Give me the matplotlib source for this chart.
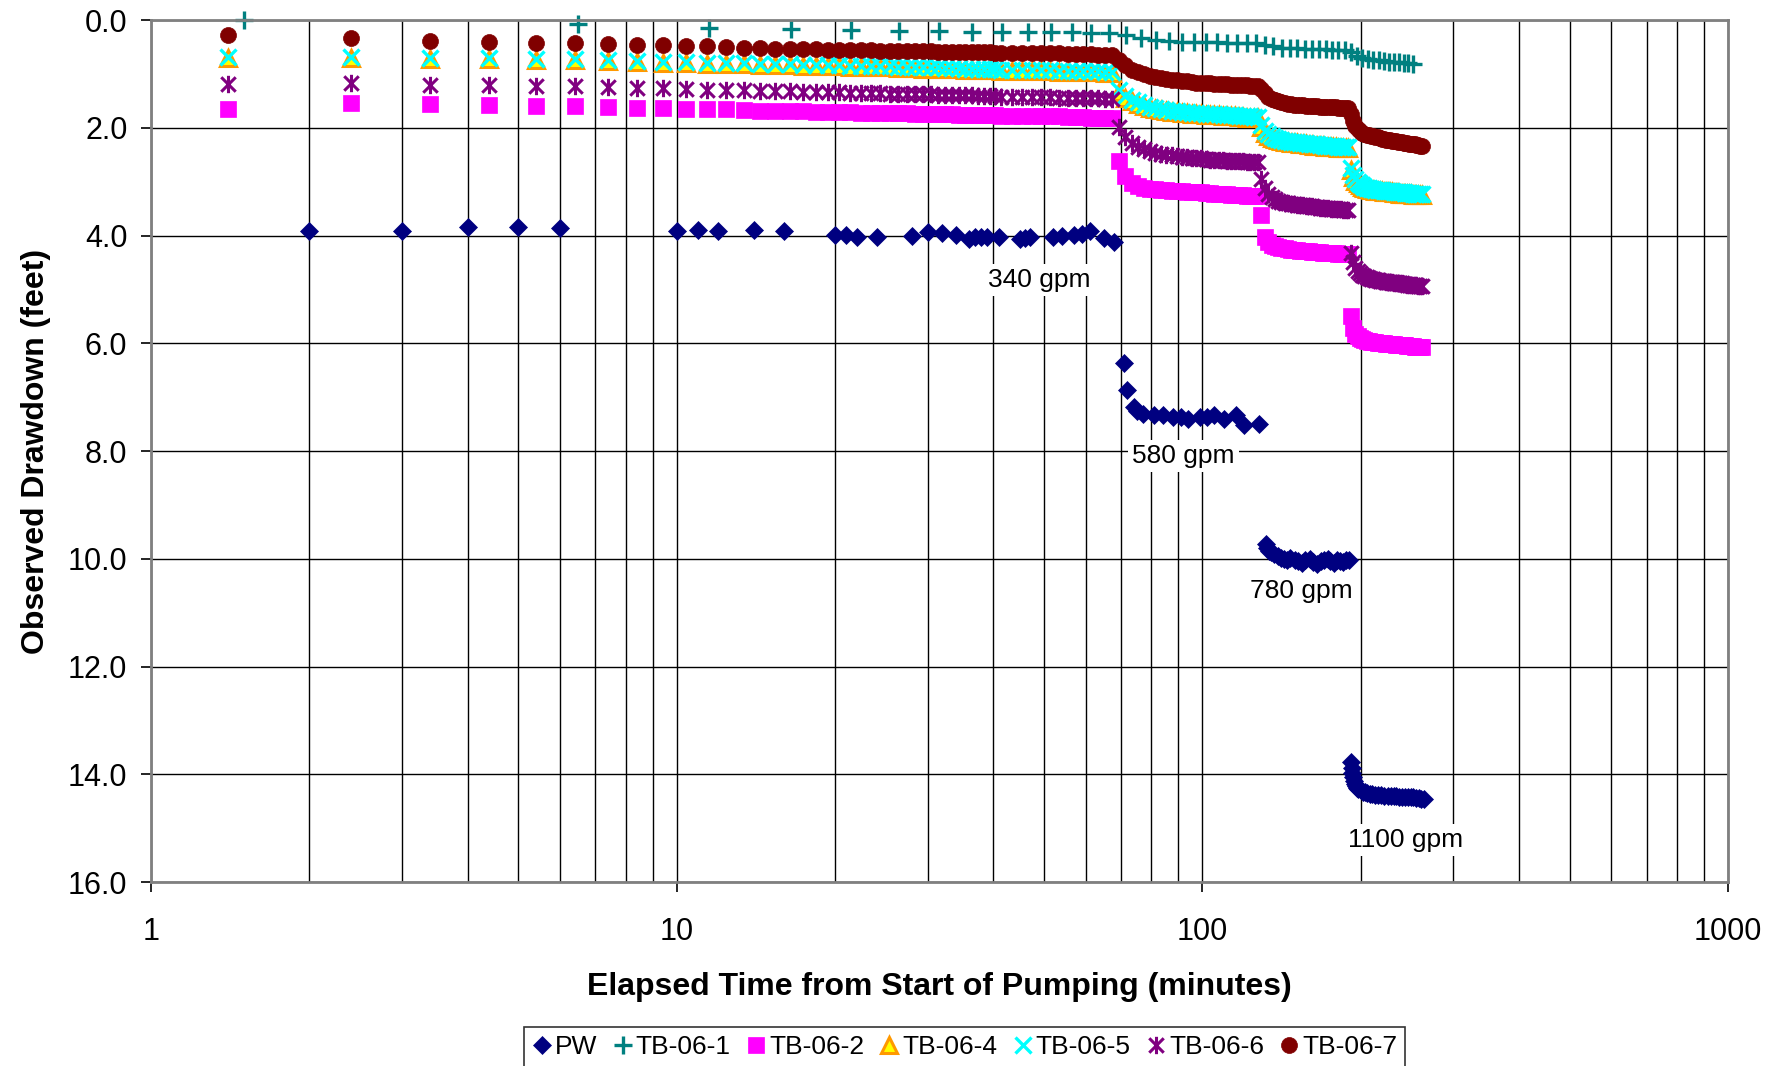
import numpy as np
import matplotlib
matplotlib.use('Agg')
import matplotlib.pyplot as plt
from matplotlib.path import Path
from matplotlib.ticker import FormatStrFormatter, NullFormatter

plt.rcParams['font.family'] = ['Liberation Sans', 'DejaVu Sans']

# Pumping well (manual readings, minutes / feet)
pw_time = [2, 3, 4, 5, 6, 10, 11, 12, 14, 16, 20, 21, 22, 24, 28, 30, 32, 34, 36, 37,
           38, 39, 41, 45, 46, 47, 52, 54, 57, 59, 61, 65, 68,
           71, 72, 74, 75, 77, 81, 84, 88, 91, 94, 99, 102, 105, 110, 116, 120, 128,
           132, 133, 134, 135, 137, 139, 141, 143, 145, 147, 150, 152, 155, 157, 160, 162,
           165, 168, 170, 173, 175, 178, 180, 183, 185, 188, 190,
           192, 192.5, 193, 193.5, 194, 195, 196, 197, 198, 200, 202, 204, 206, 208, 210,
           213, 216, 219, 222, 225, 228, 231, 234, 237, 240, 243, 246, 249, 252, 255, 258,
           261, 264]
pw_dd = [3.91, 3.91, 3.84, 3.84, 3.86, 3.92, 3.89, 3.92, 3.90, 3.92, 3.99, 3.99, 4.02, 4.02,
         4.00, 3.94, 3.95, 3.99, 4.06, 4.03, 4.02, 4.02, 4.03, 4.07, 4.05, 4.03, 4.03, 4.00,
         3.99, 3.98, 3.91, 4.05, 4.12,
         6.37, 6.86, 7.18, 7.25, 7.31, 7.34, 7.34, 7.37, 7.37, 7.40, 7.36, 7.37, 7.34, 7.40,
         7.34, 7.52, 7.49,
         9.72, 9.80, 9.86, 9.88, 9.92, 9.95, 9.98, 10.00, 10.03, 9.98, 10.02, 10.05, 10.08,
         10.03, 10.01, 10.06, 10.10, 10.04, 10.02, 10.00, 10.05, 10.08, 10.02, 10.04, 10.06,
         10.03, 10.02,
         13.77, 13.88, 13.98, 14.06, 14.12, 14.18, 14.22, 14.25, 14.27, 14.30, 14.32, 14.33,
         14.35, 14.36, 14.37, 14.38, 14.38, 14.39, 14.40, 14.40, 14.40, 14.41, 14.41, 14.42,
         14.42, 14.42, 14.43, 14.43, 14.43, 14.44, 14.44, 14.45, 14.46]

# TB-06-1 read every 5 minutes
tb1_time = np.arange(1.5, 252, 5)
tb1 = [0.00, 0.08, 0.14, 0.16, 0.19, 0.20, 0.21, 0.22, 0.22, 0.22,
       0.23, 0.23, 0.24, 0.24, 0.28, 0.33, 0.37, 0.39, 0.40, 0.41,
       0.41, 0.41, 0.42, 0.42, 0.42, 0.43, 0.46, 0.49, 0.51, 0.52,
       0.52, 0.53, 0.53, 0.54, 0.54, 0.55, 0.55, 0.56, 0.59, 0.66,
       0.70, 0.73, 0.74, 0.75, 0.76, 0.77, 0.78, 0.78, 0.79, 0.80,
       0.81]

# transducer wells: 1 min readings to 40 min, then every 2 min
obs_time = np.concatenate([np.arange(1.4, 41, 1), np.arange(41.4, 262, 2)])

tb2 = [1.65, 1.54, 1.56, 1.57, 1.59, 1.60, 1.61, 1.63, 1.64, 1.65, 1.66, 1.66, 1.67, 1.68,
       1.68, 1.69, 1.69, 1.70, 1.70, 1.71, 1.71, 1.72, 1.72, 1.72, 1.73, 1.73, 1.73, 1.74,
       1.74, 1.74, 1.75, 1.75, 1.75, 1.76, 1.76, 1.76, 1.77, 1.77, 1.77, 1.77,
       1.78, 1.78, 1.78, 1.79, 1.79, 1.79, 1.79, 1.80, 1.80, 1.80, 1.81, 1.81, 1.81, 1.82,
       2.62, 2.90, 3.03, 3.08, 3.11, 3.13, 3.14, 3.15, 3.16, 3.17, 3.18, 3.18, 3.19, 3.19,
       3.20, 3.20, 3.21, 3.21, 3.22, 3.22, 3.23, 3.23, 3.24, 3.24, 3.25, 3.25, 3.26, 3.26,
       3.27, 3.27,
       3.62, 4.02, 4.12, 4.17, 4.20, 4.22, 4.23, 4.24, 4.25, 4.26, 4.27, 4.27, 4.28, 4.28,
       4.29, 4.29, 4.30, 4.30, 4.31, 4.31, 4.32, 4.32, 4.32, 4.33, 4.33, 4.33, 4.34, 4.34,
       4.34, 4.35, 4.35,
       5.50, 5.72, 5.82, 5.87, 5.90, 5.92, 5.94, 5.95, 5.96, 5.97, 5.98, 5.98, 5.99, 5.99,
       6.00, 6.00, 6.01, 6.01, 6.02, 6.02, 6.02, 6.03, 6.03, 6.03, 6.04, 6.04, 6.04, 6.05,
       6.05, 6.05, 6.05, 6.06, 6.06, 6.06, 6.07, 6.07]

tb4 = [0.70, 0.70, 0.72, 0.73, 0.74, 0.75, 0.76, 0.78, 0.79, 0.80, 0.81, 0.82, 0.82, 0.83,
       0.84, 0.84, 0.85, 0.85, 0.86, 0.86, 0.87, 0.87, 0.88, 0.88, 0.88, 0.89, 0.89, 0.89,
       0.90, 0.90, 0.90, 0.91, 0.91, 0.91, 0.92, 0.92, 0.92, 0.93, 0.93, 0.93,
       0.94, 0.94, 0.94, 0.95, 0.95, 0.95, 0.96, 0.96, 0.96, 0.97, 0.97, 0.97, 0.98, 0.98,
       1.33, 1.44, 1.51, 1.56, 1.60, 1.63, 1.65, 1.67, 1.69, 1.70, 1.71, 1.72, 1.73, 1.74,
       1.75, 1.75, 1.76, 1.76, 1.77, 1.77, 1.78, 1.78, 1.79, 1.79, 1.80, 1.80, 1.81, 1.81,
       1.82, 1.82,
       1.98, 2.09, 2.15, 2.19, 2.21, 2.23, 2.25, 2.26, 2.27, 2.28, 2.29, 2.29, 2.30, 2.31,
       2.31, 2.32, 2.32, 2.33, 2.33, 2.34, 2.34, 2.35, 2.35, 2.35, 2.36, 2.36, 2.37, 2.37,
       2.37, 2.38, 2.38,
       2.78, 2.91, 2.98, 3.03, 3.07, 3.09, 3.11, 3.13, 3.14, 3.15, 3.16, 3.17, 3.17, 3.18,
       3.18, 3.19, 3.19, 3.20, 3.20, 3.20, 3.21, 3.21, 3.21, 3.22, 3.22, 3.22, 3.23, 3.23,
       3.23, 3.23, 3.24, 3.24, 3.24, 3.24, 3.25, 3.25]

tb5 = [0.68, 0.68, 0.70, 0.71, 0.72, 0.73, 0.74, 0.76, 0.77, 0.78, 0.79, 0.80, 0.80, 0.81,
       0.82, 0.82, 0.83, 0.83, 0.84, 0.84, 0.85, 0.85, 0.86, 0.86, 0.86, 0.87, 0.87, 0.87,
       0.88, 0.88, 0.88, 0.89, 0.89, 0.89, 0.90, 0.90, 0.90, 0.91, 0.91, 0.91,
       0.92, 0.92, 0.92, 0.93, 0.93, 0.93, 0.94, 0.94, 0.94, 0.95, 0.95, 0.95, 0.96, 0.96,
       1.30, 1.41, 1.48, 1.53, 1.57, 1.61, 1.63, 1.65, 1.67, 1.68, 1.69, 1.70, 1.71, 1.72,
       1.73, 1.73, 1.74, 1.74, 1.75, 1.75, 1.76, 1.76, 1.77, 1.77, 1.78, 1.78, 1.79, 1.79,
       1.80, 1.80,
       1.95, 2.06, 2.12, 2.16, 2.19, 2.21, 2.23, 2.24, 2.25, 2.26, 2.27, 2.27, 2.28, 2.29,
       2.29, 2.30, 2.30, 2.31, 2.31, 2.32, 2.32, 2.33, 2.33, 2.33, 2.34, 2.34, 2.35, 2.35,
       2.35, 2.36, 2.36,
       2.75, 2.88, 2.95, 3.00, 3.04, 3.07, 3.09, 3.11, 3.12, 3.13, 3.14, 3.15, 3.15, 3.16,
       3.16, 3.17, 3.17, 3.18, 3.18, 3.18, 3.19, 3.19, 3.19, 3.20, 3.20, 3.20, 3.21, 3.21,
       3.21, 3.21, 3.22, 3.22, 3.22, 3.22, 3.23, 3.23]

tb6 = [1.18, 1.16, 1.20, 1.21, 1.22, 1.23, 1.25, 1.26, 1.27, 1.28, 1.29, 1.30, 1.30, 1.31,
       1.32, 1.32, 1.33, 1.33, 1.34, 1.34, 1.35, 1.35, 1.36, 1.36, 1.37, 1.37, 1.37, 1.38,
       1.38, 1.38, 1.39, 1.39, 1.39, 1.40, 1.40, 1.40, 1.41, 1.41, 1.41, 1.41,
       1.42, 1.42, 1.42, 1.43, 1.43, 1.43, 1.44, 1.44, 1.44, 1.45, 1.45, 1.45, 1.46, 1.46,
       1.98, 2.18, 2.29, 2.35, 2.40, 2.44, 2.46, 2.48, 2.50, 2.51, 2.53, 2.54, 2.55, 2.56,
       2.57, 2.57, 2.58, 2.59, 2.59, 2.60, 2.60, 2.61, 2.61, 2.62, 2.62, 2.62, 2.63, 2.63,
       2.64, 2.64,
       2.95, 3.12, 3.22, 3.28, 3.32, 3.35, 3.37, 3.39, 3.40, 3.41, 3.42, 3.43, 3.44, 3.44,
       3.45, 3.46, 3.46, 3.47, 3.47, 3.48, 3.48, 3.49, 3.49, 3.50, 3.50, 3.50, 3.51, 3.51,
       3.52, 3.52, 3.53,
       4.32, 4.50, 4.60, 4.66, 4.70, 4.73, 4.75, 4.77, 4.79, 4.80, 4.81, 4.82, 4.83, 4.84,
       4.85, 4.85, 4.86, 4.86, 4.87, 4.87, 4.88, 4.88, 4.89, 4.89, 4.89, 4.90, 4.90, 4.91,
       4.91, 4.91, 4.92, 4.92, 4.92, 4.93, 4.93, 4.93]

tb7 = [0.27, 0.34, 0.38, 0.40, 0.42, 0.43, 0.44, 0.46, 0.47, 0.48, 0.49, 0.50, 0.51, 0.52,
       0.53, 0.53, 0.54, 0.54, 0.55, 0.55, 0.56, 0.56, 0.56, 0.57, 0.57, 0.57, 0.58, 0.58,
       0.58, 0.58, 0.59, 0.59, 0.59, 0.59, 0.60, 0.60, 0.60, 0.60, 0.60, 0.61,
       0.61, 0.61, 0.61, 0.62, 0.62, 0.62, 0.62, 0.63, 0.63, 0.63, 0.63, 0.64, 0.64, 0.65,
       0.74, 0.84, 0.92, 0.97, 1.01, 1.04, 1.06, 1.08, 1.10, 1.11, 1.12, 1.13, 1.14, 1.15,
       1.16, 1.16, 1.17, 1.17, 1.18, 1.18, 1.19, 1.19, 1.20, 1.20, 1.20, 1.21, 1.21, 1.22,
       1.22, 1.23,
       1.28, 1.36, 1.42, 1.46, 1.49, 1.51, 1.53, 1.54, 1.55, 1.56, 1.57, 1.57, 1.58, 1.58,
       1.59, 1.59, 1.60, 1.60, 1.60, 1.61, 1.61, 1.61, 1.62, 1.62, 1.62, 1.62, 1.63, 1.63,
       1.63, 1.64, 1.64,
       1.75, 1.88, 1.96, 2.02, 2.06, 2.09, 2.11, 2.13, 2.14, 2.15, 2.16, 2.17, 2.18, 2.19,
       2.20, 2.21, 2.22, 2.22, 2.23, 2.24, 2.24, 2.25, 2.26, 2.26, 2.27, 2.28, 2.28, 2.29,
       2.30, 2.30, 2.31, 2.31, 2.32, 2.32, 2.33, 2.34]

# pumping rate labels
rate_labels = ['340 gpm', '580 gpm', '780 gpm', '1100 gpm']
rate_x = [49, 92, 154, 244]
rate_y = [4.83, 8.09, 10.6, 15.22]

# Excel style "star" marker (x with a vertical bar)
star = Path([(-1, -1), (1, 1), (-1, 1), (1, -1), (0, -1.2), (0, 1.2)],
            [Path.MOVETO, Path.LINETO, Path.MOVETO, Path.LINETO, Path.MOVETO, Path.LINETO])

fig = plt.figure(figsize=(17.85, 10.66), dpi=100)
ax = fig.add_axes([0.0846, 0.1726, 0.8835, 0.8086])

ax.plot(pw_time, pw_dd, ls='none', marker='D', ms=8.8, color='#000080', mew=0.5,
        label='PW', clip_on=False)
ax.plot(tb1_time, tb1, ls='none', marker='+', ms=12.5, color='#008080', mew=2.4,
        label='TB-06-1', clip_on=False)
ax.plot(obs_time, tb2, ls='none', marker='s', ms=11.5, color='#FF00FF', mew=0.5,
        label='TB-06-2', clip_on=False)
ax.plot(obs_time, tb4, ls='none', marker='^', ms=11.5, mfc='#FFFF00', mec='#FF9900', mew=2.2,
        label='TB-06-4', clip_on=False)
ax.plot(obs_time, tb5, ls='none', marker='x', ms=11.5, color='#00FFFF', mew=2.4,
        label='TB-06-5', clip_on=False)
ax.plot(obs_time, tb6, ls='none', marker=star, ms=12.5, color='#800080', mfc='none', mew=2.2,
        label='TB-06-6', clip_on=False)
ax.plot(obs_time, tb7, ls='none', marker='o', ms=11.5, color='#800000', mew=0.5,
        label='TB-06-7', clip_on=False)

for lab, x, y in zip(rate_labels, rate_x, rate_y):
    ax.text(x, y, lab, fontsize=19, ha='center', va='center',
            bbox=dict(facecolor='white', edgecolor='none', pad=3))

# axes
ax.set_xscale('log')
ax.set_xlim(1, 1000)
ax.set_ylim(16, 0)
ax.set_yticks(np.arange(0, 16.1, 2))
ax.yaxis.set_major_formatter(FormatStrFormatter('%.1f'))
ax.set_xticks([1, 10, 100, 1000])
ax.set_xticklabels(['1', '10', '100', '1000'])
ax.xaxis.set_minor_formatter(NullFormatter())

ax.grid(True, which='major', color='black', lw=1.0)
ax.grid(True, which='minor', axis='x', color='black', lw=1.0)
ax.set_axisbelow(True)

ax.tick_params(axis='both', which='major', labelsize=22, length=7, width=1.2, direction='out')
ax.tick_params(axis='x', which='major', pad=18)
ax.tick_params(axis='y', which='major', pad=10)
ax.tick_params(axis='x', which='minor', length=0)

for s in ax.spines.values():
    s.set_color('#808080')
    s.set_linewidth(2)

ax.set_xlabel('Elapsed Time from Start of Pumping (minutes)', fontsize=23, fontweight='bold',
              labelpad=18)
ax.set_ylabel('Observed Drawdown (feet)', fontsize=23, fontweight='bold', labelpad=12)

leg = fig.legend(loc='upper center', bbox_to_anchor=(0.5403, 1 - 1027 / 1066), ncol=7,
                 fontsize=19, frameon=True, fancybox=False, edgecolor='black',
                 handletextpad=0.1, columnspacing=0.55, handlelength=0.8, borderpad=0.3,
                 borderaxespad=0)
leg.get_frame().set_linewidth(1.2)

fig.savefig('out.png', dpi=100)
